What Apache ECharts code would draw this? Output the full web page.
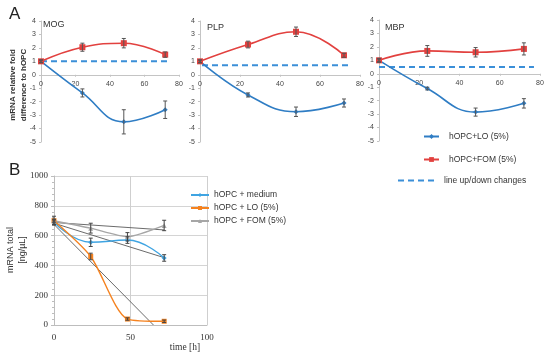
<!DOCTYPE html>
<html><head><meta charset="utf-8">
<script src="https://cdn.jsdelivr.net/npm/echarts@6/dist/echarts.min.js"></script>
<style>html,body{margin:0;padding:0;background:#fff}#c{width:550px;height:357px}</style>
</head><body><div id="c"></div>
<script>
// ---------- Panel A data ----------
const hours = [0, 24, 48, 72];
const mogLO = [1, -1.35, -3.5, -2.6];   const mogLOErr = [0.1, 0.3, 0.9, 0.65];
const mogFOM = [1, 2.05, 2.35, 1.5];    const mogFOMErr = [0.1, 0.3, 0.35, 0.2];
const plpLO = [1, -1.5, -2.75, -2.1];   const plpLOErr = [0.1, 0.15, 0.35, 0.3];
const plpFOM = [1, 2.25, 3.2, 1.45];    const plpFOMErr = [0.1, 0.25, 0.35, 0.15];
const mbpLO = [1, -1.1, -2.85, -2.2];   const mbpLOErr = [0.15, 0.1, 0.3, 0.35];
const mbpFOM = [1, 1.7, 1.6, 1.85];     const mbpFOMErr = [0.1, 0.4, 0.35, 0.45];
const mogLineX = [0, 75];  const mogLineY = [1, 1];
const plpLineX = [-4, 76]; const plpLineY = [0.7, 0.7];
const mbpLineX = [0, 77];  const mbpLineY = [0.5, 0.5];
const panelTitles = ['MOG', 'PLP', 'MBP'];
// ---------- Panel B data ----------
const medium = [690, 555, 570, 450];  const mediumErr = [15, 28, 22, 22];
const lo = [700, 460, 40, 25];        const loErr = [10, 22, 8, 8];
const fom = [700, 650, 592, 668];     const fomErr = [30, 33, 28, 35];
const trendMedX = [0, 72]; const trendMedY = [683, 452];
const trendFomX = [0, 72]; const trendFomY = [688, 638];
const trendLoX = [0, 65];  const trendLoY = [675, 0];

const pairs = (xs, ys) => xs.map((x, i) => [x, ys[i]]);
const errs = (xs, ys, es) => xs.map((x, i) => [x, ys[i] - es[i], ys[i] + es[i]]);

function errRender(color, cap) {
  return function (params, api) {
    const x = api.value(0), a = api.coord([x, api.value(1)]), b = api.coord([x, api.value(2)]);
    const st = { stroke: color, lineWidth: 1 };
    return { type: 'group', children: [
      { type: 'line', shape: { x1: a[0], y1: a[1], x2: b[0], y2: b[1] }, style: st },
      { type: 'line', shape: { x1: a[0] - cap, y1: a[1], x2: a[0] + cap, y2: a[1] }, style: st },
      { type: 'line', shape: { x1: b[0] - cap, y1: b[1], x2: b[0] + cap, y2: b[1] }, style: st }
    ]};
  };
}

const BLUE = '#2f7dc4', RED = '#e2413f', DASH = '#3b8fd8';
const BBLUE = '#3fa4e2', BORANGE = '#f5821f', BGRAY = '#a6a6a6', TREND = '#5a5a5a';
const sans = 'Liberation Sans, Arial, sans-serif';
const serif = 'Liberation Serif, Times New Roman, serif';

const Y_MIN = -5, Y_MAX = 4;
const gridsA = [
  { left: 41, top: 21, width: 138, height: 121 },
  { left: 200, top: 21, width: 160, height: 121 },
  { left: 379, top: 20, width: 161, height: 121 }
];
const gridB = { left: 54, top: 176, width: 153, height: 149 };

const xAxes = [], yAxes = [];
gridsA.forEach((g, i) => {
  // place the x axis on the zero line of the y scale
  const zeroOffset = -g.height * (0 - Y_MIN) / (Y_MAX - Y_MIN);
  xAxes.push({ gridIndex: i, type: 'value', min: 0, max: 80, interval: 20, position: 'bottom', offset: zeroOffset,
    axisLine: { show: true, onZero: false, lineStyle: { color: '#c4c4c4', width: 1 } },
    axisTick: { show: true, length: 2, lineStyle: { color: '#c4c4c4' } },
    axisLabel: { fontSize: 7, color: '#444', fontFamily: sans, margin: 6 },
    splitLine: { show: false } });
  yAxes.push({ gridIndex: i, type: 'value', min: Y_MIN, max: Y_MAX, interval: 1,
    axisLine: { show: true, onZero: false, lineStyle: { color: '#c4c4c4', width: 1 } },
    axisTick: { show: true, length: 2, lineStyle: { color: '#c4c4c4' } },
    axisLabel: { fontSize: 7, color: '#444', fontFamily: sans, margin: 5 },
    splitLine: { show: false } });
});
xAxes.push({ gridIndex: 3, type: 'value', min: 0, max: 100, interval: 50,
  axisLine: { lineStyle: { color: '#bdbdbd' } }, axisTick: { show: false },
  axisLabel: { fontSize: 9, color: '#333', fontFamily: serif, margin: 8 },
  splitLine: { show: true, lineStyle: { color: '#cfcfcf', width: 1 } } });
yAxes.push({ gridIndex: 3, type: 'value', min: 0, max: 1000, interval: 200,
  axisLine: { show: true, lineStyle: { color: '#bdbdbd' } },
  axisTick: { show: true, length: 3, lineStyle: { color: '#bdbdbd' } },
  minorTick: { show: true, splitNumber: 5, length: 2, lineStyle: { color: '#bdbdbd' } },
  axisLabel: { fontSize: 9, color: '#333', fontFamily: serif, margin: 6, formatter: v => String(v) },
  splitLine: { show: true, lineStyle: { color: '#d4d4d4', width: 1 } } });

const series = [];
const panels = [
  [mogLO, mogLOErr, mogFOM, mogFOMErr, mogLineX, mogLineY],
  [plpLO, plpLOErr, plpFOM, plpFOMErr, plpLineX, plpLineY],
  [mbpLO, mbpLOErr, mbpFOM, mbpFOMErr, mbpLineX, mbpLineY]
];
panels.forEach((p, i) => {
  series.push({ name: 'line up/down changes', type: 'line', xAxisIndex: i, yAxisIndex: i,
    data: pairs(p[4], p[5]), symbol: 'none', clip: false, silent: true,
    lineStyle: { color: DASH, width: 2, type: [6, 4] }, itemStyle: { color: DASH }, z: 2 });
  series.push({ name: 'hOPC+LO (5%)', type: 'line', xAxisIndex: i, yAxisIndex: i,
    data: pairs(hours, p[0]), smooth: 0.45, symbol: 'diamond', symbolSize: 5,
    lineStyle: { color: BLUE, width: 1.6 }, itemStyle: { color: BLUE }, z: 3 });
  series.push({ name: 'hOPC+FOM (5%)', type: 'line', xAxisIndex: i, yAxisIndex: i,
    data: pairs(hours, p[2]), smooth: 0.45, symbol: 'rect', symbolSize: 6,
    lineStyle: { color: RED, width: 1.6 }, itemStyle: { color: RED }, z: 3 });
  series.push({ type: 'custom', xAxisIndex: i, yAxisIndex: i, renderItem: errRender('#555', 2),
    data: errs(hours, p[0], p[1]), z: 4, silent: true });
  series.push({ type: 'custom', xAxisIndex: i, yAxisIndex: i, renderItem: errRender('#555', 2),
    data: errs(hours, p[2], p[3]), z: 4, silent: true });
});
// Panel B
[[trendMedX, trendMedY], [trendFomX, trendFomY], [trendLoX, trendLoY]].forEach(t => {
  series.push({ type: 'line', xAxisIndex: 3, yAxisIndex: 3, data: pairs(t[0], t[1]),
    symbol: 'none', silent: true, lineStyle: { color: TREND, width: 0.9 }, z: 2 });
});
series.push({ name: 'hOPC + medium', type: 'line', xAxisIndex: 3, yAxisIndex: 3,
  data: pairs(hours, medium), smooth: 0.45, symbol: 'diamond', symbolSize: 5,
  lineStyle: { color: BBLUE, width: 1.4 }, itemStyle: { color: BBLUE }, z: 3 });
series.push({ name: 'hOPC + LO (5%)', type: 'line', xAxisIndex: 3, yAxisIndex: 3,
  data: pairs(hours, lo), smooth: 0.25, symbol: 'rect', symbolSize: 5,
  lineStyle: { color: BORANGE, width: 1.4 }, itemStyle: { color: BORANGE }, z: 3 });
series.push({ name: 'hOPC + FOM (5%)', type: 'line', xAxisIndex: 3, yAxisIndex: 3,
  data: pairs(hours, fom), smooth: 0.2, symbol: 'triangle', symbolSize: 5,
  lineStyle: { color: BGRAY, width: 1.4 }, itemStyle: { color: BGRAY }, z: 3 });
[[medium, mediumErr], [lo, loErr], [fom, fomErr]].forEach(d => {
  series.push({ type: 'custom', xAxisIndex: 3, yAxisIndex: 3, renderItem: errRender('#444', 2),
    data: errs(hours, d[0], d[1]), z: 4, silent: true });
});

const legTxt = { fontSize: 8.5, color: '#333', fontFamily: sans };
const legTxtA = Object.assign({ padding: [0, 0, 0, 5] }, legTxt);
const option = {
  animation: false,
  grid: [...gridsA, gridB],
  xAxis: xAxes, yAxis: yAxes,
  legend: [
    { data: ['hOPC+LO (5%)'], left: 423, top: 132, padding: 0, itemWidth: 15, itemHeight: 6, textStyle: legTxtA },
    { data: ['hOPC+FOM (5%)'], left: 423, top: 155, padding: 0, itemWidth: 15, itemHeight: 6, textStyle: legTxtA },
    { data: ['line up/down changes'], left: 397, top: 176, padding: 0, itemWidth: 36, itemHeight: 6, textStyle: legTxtA,
      itemStyle: { opacity: 0 } },
    { data: ['hOPC + medium', 'hOPC + LO (5%)', 'hOPC + FOM (5%)'], orient: 'vertical', left: 190, top: 190,
      padding: 0, itemWidth: 18, itemHeight: 5, itemGap: 3, textStyle: Object.assign({ lineHeight: 10 }, legTxt) }
  ],
  graphic: [
    { type: 'text', left: 9, top: 6, style: { text: 'A', fontSize: 17, fontFamily: sans, fill: '#222' } },
    { type: 'text', left: 9, top: 162, style: { text: 'B', fontSize: 17, fontFamily: sans, fill: '#222' } },
    { type: 'text', x: 18, y: 85, rotation: Math.PI / 2, style: { text: 'mRNA relative fold\ndifference to hOPC',
      fontSize: 8, fontWeight: 'bold', fontFamily: sans, fill: '#333', align: 'center', verticalAlign: 'middle', lineHeight: 11 } },
    { type: 'text', x: 17, y: 250, rotation: Math.PI / 2, style: { text: 'mRNA total\n[ng/µL]',
      fontSize: 9, fontFamily: sans, fill: '#333', align: 'center', verticalAlign: 'middle', lineHeight: 12 } },
    { type: 'text', x: 185, y: 347, style: { text: 'time [h]', fontSize: 9.5, fontFamily: serif, fill: '#333', align: 'center', verticalAlign: 'middle' } },
    { type: 'text', x: 43, y: 25, style: { text: panelTitles[0], fontSize: 9, fontFamily: sans, fill: '#333', verticalAlign: 'middle' } },
    { type: 'text', x: 207, y: 28, style: { text: panelTitles[1], fontSize: 9, fontFamily: sans, fill: '#333', verticalAlign: 'middle' } },
    { type: 'text', x: 385, y: 28, style: { text: panelTitles[2], fontSize: 9, fontFamily: sans, fill: '#333', verticalAlign: 'middle' } }
  ],
  series: series
};
const chart = echarts.init(document.getElementById('c'), null, { renderer: 'canvas' });
chart.setOption(option);
</script></body></html>
